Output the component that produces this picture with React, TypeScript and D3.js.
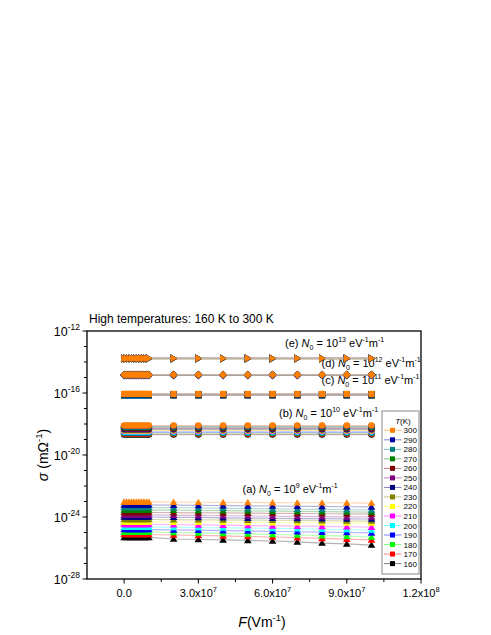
import React from "react";
import * as d3 from "d3";

// ---------- DATA ----------
const TEMPS = [300, 290, 280, 270, 260, 250, 240, 230, 220, 210, 200, 190, 180, 170, 160];
const COLORS = ["#FF8000", "#0000A0", "#008080", "#008000", "#800000", "#800080", "#000080", "#808000", "#FFFF00", "#FF00FF", "#00FFFF", "#0000FF", "#00FF00", "#FF0000", "#000000"];

// field values (V/m): dense block then sparse points
const F_DENSE = [0, 1e6, 2e6, 3e6, 4e6, 5e6, 6e6, 7e6, 8e6, 9e6, 1e7];
const F_SPARSE = [2e7, 3e7, 4e7, 5e7, 6e7, 7e7, 8e7, 9e7, 1e8];

// (a) N0 = 1e9 : log10(sigma) read at [dense block, 2e7 ... 1e8]
const LOG_SIGMA_A = [
  [-23.03, -23.04, -23.05, -23.06, -23.06, -23.07, -23.08, -23.08, -23.09, -23.10],
  [-23.23, -23.24, -23.25, -23.27, -23.28, -23.29, -23.31, -23.32, -23.34, -23.35],
  [-23.39, -23.40, -23.42, -23.44, -23.46, -23.48, -23.50, -23.51, -23.53, -23.55],
  [-23.55, -23.56, -23.58, -23.59, -23.61, -23.62, -23.64, -23.65, -23.67, -23.68],
  [-23.71, -23.72, -23.73, -23.74, -23.75, -23.76, -23.77, -23.79, -23.80, -23.81],
  [-23.87, -23.88, -23.90, -23.92, -23.93, -23.95, -23.96, -23.98, -23.99, -24.00],
  [-24.00, -24.02, -24.03, -24.05, -24.07, -24.08, -24.10, -24.11, -24.12, -24.13],
  [-24.16, -24.17, -24.18, -24.19, -24.20, -24.21, -24.22, -24.24, -24.25, -24.26],
  [-24.32, -24.33, -24.34, -24.34, -24.35, -24.36, -24.37, -24.37, -24.38, -24.39],
  [-24.48, -24.50, -24.51, -24.53, -24.55, -24.57, -24.59, -24.61, -24.63, -24.65],
  [-24.65, -24.67, -24.68, -24.70, -24.72, -24.74, -24.76, -24.79, -24.81, -24.84],
  [-24.81, -24.83, -24.85, -24.88, -24.90, -24.92, -24.95, -24.98, -25.00, -25.03],
  [-24.97, -25.00, -25.03, -25.06, -25.09, -25.13, -25.16, -25.20, -25.24, -25.29],
  [-25.13, -25.16, -25.19, -25.22, -25.26, -25.29, -25.33, -25.38, -25.43, -25.48],
  [-25.32, -25.42, -25.45, -25.48, -25.51, -25.55, -25.61, -25.68, -25.74, -25.81],
];
// (b)-(e): flat lines, one log10(sigma) per temperature
const LOG_SIGMA_B = [-18.10, -18.13, -18.17, -18.21, -18.25, -18.29, -18.33, -18.37, -18.41, -18.45, -18.50, -18.54, -18.58, -18.63, -18.68];
const LOG_SIGMA_C = [-16.06, -16.07, -16.08, -16.08, -16.09, -16.10, -16.10, -16.11, -16.12, -16.12, -16.13, -16.14, -16.14, -16.15, -16.16];
const LOG_SIGMA_D = [-14.82, -14.82, -14.83, -14.83, -14.83, -14.84, -14.84, -14.84, -14.84, -14.85, -14.85, -14.85, -14.85, -14.86, -14.86];
const LOG_SIGMA_E = [-13.76, -13.76, -13.76, -13.77, -13.77, -13.77, -13.77, -13.78, -13.78, -13.78, -13.78, -13.78, -13.79, -13.79, -13.79];

const X_TICKS = [0, 3e7, 6e7, 9e7, 1.2e8];
const X_TICK_LABELS = [["0.0", ""], ["3.0x10", "7"], ["6.0x10", "7"], ["9.0x10", "7"], ["1.2x10", "8"]];
const X_MINOR = [1.5e7, 4.5e7, 7.5e7, 1.05e8];
const Y_MAJOR_EXP = [-12, -16, -20, -24, -28];

const GROUPS = [
  { key: "a", marker: "triUp", exp: "9" },
  { key: "b", marker: "circle", exp: "10" },
  { key: "c", marker: "square", exp: "11" },
  { key: "d", marker: "diamond", exp: "12" },
  { key: "e", marker: "triRight", exp: "13" },
];

// ---------- LAYOUT ----------
const W = 491, H = 635;
const L = 87, R = 421, T = 331, B = 579;
const FONT = "Arial, 'Liberation Sans', Helvetica, sans-serif";

const x = d3.scaleLinear().domain([-1.5e7, 1.2e8]).range([L, R]);
const y = d3.scaleLog().domain([1e-28, 1e-12]).range([B, T]);

const pale = (c: string) => d3.interpolateRgb(c, "#ffffff")(0.5);

function seriesFor(g: string, ti: number): [number, number][] {
  let dense: number, sparse: number[];
  if (g === "a") {
    dense = LOG_SIGMA_A[ti][0];
    sparse = LOG_SIGMA_A[ti].slice(1);
  } else {
    const v = g === "b" ? LOG_SIGMA_B[ti] : g === "c" ? LOG_SIGMA_C[ti] : g === "d" ? LOG_SIGMA_D[ti] : LOG_SIGMA_E[ti];
    dense = v;
    sparse = F_SPARSE.map(() => v);
  }
  const pts: [number, number][] = F_DENSE.map((f) => [f, Math.pow(10, dense)]);
  F_SPARSE.forEach((f, i) => pts.push([f, Math.pow(10, sparse[i])]));
  return pts;
}

const markerPath: Record<string, string> = {
  triUp: "M0,-3.6L3.8,2.8L-3.8,2.8Z",
  triRight: "M-3,-3.9L3.8,0L-3,3.9Z",
  circle: d3.symbol(d3.symbolCircle, 34)() as string,
  square: "M-3.1,-3.1L3.1,-3.1L3.1,3.1L-3.1,3.1Z",
  diamond: "M0,-4L4,0L0,4L-4,0Z",
};

function Annot({ x0, y0, letter, exp }: { x0: number; y0: number; letter: string; exp: string }) {
  return (
    <text x={x0} y={y0} fontSize={11} fontFamily={FONT} fill="#000">
      <tspan>({letter}) </tspan>
      <tspan fontStyle="italic">N</tspan>
      <tspan fontSize={7} dy={3}>0</tspan>
      <tspan dy={-3}> = 10</tspan>
      <tspan fontSize={7} dy={-5}>{exp}</tspan>
      <tspan dy={5}> eV</tspan>
      <tspan fontSize={7} dy={-5}>-1</tspan>
      <tspan dy={5}>m</tspan>
      <tspan fontSize={7} dy={-5}>-1</tspan>
    </text>
  );
}

export default function App() {
  const line = d3
    .line<[number, number]>()
    .x((d) => x(d[0]))
    .y((d) => y(d[1]));

  const minorY: number[] = [];
  for (let e = -28; e <= -12; e++) minorY.push(e);

  const order = TEMPS.map((_, i) => i).reverse(); // draw 160 first, 300 last

  return (
    <svg width={W} height={H} style={{ position: "absolute", left: 0, top: 0, display: "block" }} fontFamily={FONT}>
      <rect width={W} height={H} fill="#fff" />
      {/* title */}
      <text x={89} y={323} fontSize={12}>High temperatures: 160 K to 300 K</text>

      {/* annotations (behind data) */}
      <Annot x0={285} y0={346.5} letter="e" exp="13" />
      <Annot x0={321.5} y0={367} letter="d" exp="12" />
      <Annot x0={321.5} y0={384} letter="c" exp="11" />
      <Annot x0={279} y0={416.5} letter="b" exp="10" />
      <Annot x0={242.5} y0={492.5} letter="a" exp="9" />

      {/* data */}
      {GROUPS.map((g) => (
        <g key={g.key}>
          {order.map((ti) => {
            const pts = seriesFor(g.key, ti);
            return (
              <g key={ti}>
                <path d={line(pts) as string} fill="none" stroke={pale(COLORS[ti])} strokeOpacity={0.6} strokeWidth={1.2} />
                {pts.map((p, k) => (
                  <path key={k} d={markerPath[g.marker]} transform={`translate(${x(p[0])},${y(p[1])})`} fill={COLORS[ti]} />
                ))}
              </g>
            );
          })}
        </g>
      ))}

      {/* frame */}
      <rect x={L} y={T} width={R - L} height={B - T} fill="none" stroke="#000" strokeWidth={1.3} />

      {/* y ticks */}
      {minorY.map((e) => {
        const major = Y_MAJOR_EXP.includes(e);
        const yy = y(Math.pow(10, e));
        return <line key={e} x1={L} x2={L - (major ? 4.5 : 3)} y1={yy} y2={yy} stroke="#000" strokeWidth={1} />;
      })}
      {Y_MAJOR_EXP.map((e) => (
        <text key={e} x={80} y={y(Math.pow(10, e)) + 4.5} textAnchor="end" fontSize={12.5}>
          <tspan>10</tspan>
          <tspan fontSize={8.5} dy={-6}>{String(e)}</tspan>
        </text>
      ))}

      {/* x ticks */}
      {X_TICKS.map((v, i) => (
        <g key={v}>
          <line x1={x(v)} x2={x(v)} y1={B} y2={B + 4.5} stroke="#000" strokeWidth={1} />
          <text x={x(v)} y={597} textAnchor="middle" fontSize={11}>
            <tspan>{X_TICK_LABELS[i][0]}</tspan>
            {X_TICK_LABELS[i][1] ? <tspan fontSize={7.5} dy={-5}>{X_TICK_LABELS[i][1]}</tspan> : null}
          </text>
        </g>
      ))}
      {X_MINOR.map((v) => (
        <line key={v} x1={x(v)} x2={x(v)} y1={B} y2={B + 3} stroke="#000" strokeWidth={1} />
      ))}

      {/* axis titles */}
      <text x={262} y={627} textAnchor="middle" fontSize={14}>
        <tspan fontStyle="italic">F</tspan>
        <tspan>(Vm</tspan>
        <tspan fontSize={9.5} dy={-6}>-1</tspan>
        <tspan dy={6}>)</tspan>
      </text>
      <text transform={`translate(48,455) rotate(-90)`} textAnchor="middle" fontSize={14}>
        <tspan fontStyle="italic">σ</tspan>
        <tspan> (mΩ</tspan>
        <tspan fontSize={9.5} dy={-6}>-1</tspan>
        <tspan dy={6}>)</tspan>
      </text>

      {/* legend */}
      <rect x={382} y={411} width={37} height={163} fill="#fff" stroke="#888" strokeWidth={1} />
      <text x={403} y={424} textAnchor="middle" fontSize={8}>
        <tspan fontStyle="italic">T</tspan>
        <tspan>(K)</tspan>
      </text>
      {TEMPS.map((t, i) => {
        const yy = 430.3 + i * 9.52;
        return (
          <g key={t}>
            <line x1={384} x2={401.5} y1={yy} y2={yy} stroke={pale(COLORS[i])} strokeWidth={1} />
            <rect x={390} y={yy - 2.5} width={5} height={5} fill={COLORS[i]} />
            <text x={403.5} y={yy + 3} fontSize={8}>{t}</text>
          </g>
        );
      })}
    </svg>
  );
}
